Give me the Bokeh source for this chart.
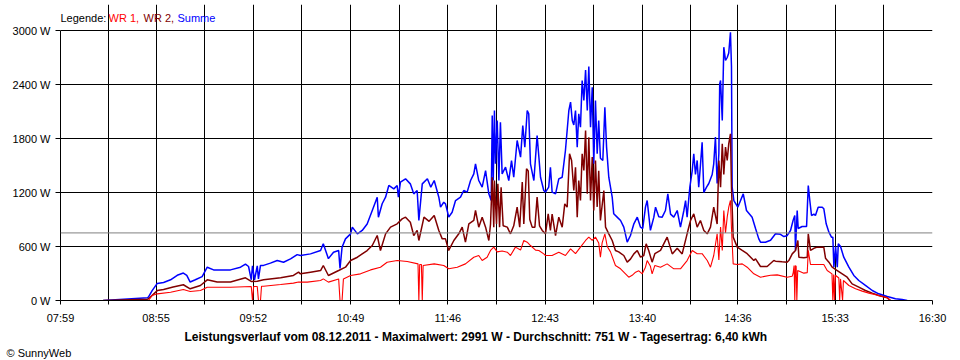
from bokeh.plotting import figure
from bokeh.models import FixedTicker, Span, Label, PrintfTickFormatter, Range1d, Title
from bokeh.embed import file_html
from bokeh.resources import INLINE

# ---------------- data ----------------
tick_labels = ["07:59", "08:55", "09:52", "10:49", "11:46", "12:43", "13:40", "14:36", "15:33", "16:30"]
y_ticks = [0, 600, 1200, 1800, 2400, 3000]
average_w = 751

legend_texts = ["Legende:", "WR 1,", "WR 2,", "Summe"]
title_text = ("Leistungsverlauf vom 08.12.2011 - Maximalwert: 2991 W - "
              "Durchschnitt: 751 W - Tagesertrag: 6,40 kWh")

sum_time = ["08:24:00", "08:36:00", "08:50:00", "08:50:36", "08:52:42", "08:55:42", "08:59:24", "09:03:30",
            "09:07:24", "09:11:00", "09:13:00", "09:15:00", "09:18:00", "09:22:00", "09:25:00", "09:28:42",
            "09:38:36", "09:44:30", "09:47:24", "09:49:12", "09:50:48", "09:51:30", "09:52:42", "09:54:18",
            "09:55:00", "09:56:12", "09:58:00", "10:02:00", "10:06:00", "10:09:42", "10:13:48", "10:17:42",
            "10:19:36", "10:25:30", "10:31:24", "10:33:00", "10:36:00", "10:39:00", "10:42:00", "10:42:48",
            "10:44:00", "10:46:00", "10:49:00", "10:50:00", "10:53:00", "10:55:48", "10:58:42", "11:01:42",
            "11:04:36", "11:05:18", "11:07:30", "11:09:30", "11:11:24", "11:14:18", "11:16:18", "11:17:00",
            "11:18:12", "11:21:12", "11:24:00", "11:26:00", "11:28:00", "11:29:00", "11:31:00", "11:34:00",
            "11:36:00", "11:38:00", "11:40:42", "11:41:42", "11:43:36", "11:44:36", "11:45:36", "11:46:30",
            "11:48:30", "11:50:30", "11:53:24", "11:55:18", "11:57:18", "11:59:18", "12:01:12", "12:02:12",
            "12:04:06", "12:06:06", "12:08:06", "12:10:00", "12:11:24", "12:12:00", "12:12:36", "12:13:18",
            "12:13:54", "12:14:54", "12:15:54", "12:16:48", "12:17:48", "12:19:48", "12:21:42", "12:23:18",
            "12:24:36", "12:26:36", "12:28:36", "12:29:54", "12:31:06", "12:32:30", "12:33:24", "12:34:24",
            "12:36:24", "12:38:18", "12:40:18", "12:42:12", "12:43:12", "12:45:06", "12:46:06", "12:47:06",
            "12:49:06", "12:51:00", "12:53:00", "12:54:54", "12:56:54", "12:57:54", "12:58:54", "12:59:48",
            "13:00:48", "13:01:48", "13:02:42", "13:03:42", "13:04:42", "13:05:42", "13:06:42", "13:07:42",
            "13:08:36", "13:09:36", "13:10:36", "13:11:30", "13:12:30", "13:13:30", "13:14:24", "13:15:24",
            "13:16:48", "13:18:00", "13:19:00", "13:20:18", "13:22:18", "13:23:12", "13:25:12", "13:27:12",
            "13:29:06", "13:31:06", "13:33:00", "13:35:00", "13:37:00", "13:38:54", "13:40:12", "13:41:48",
            "13:42:48", "13:44:42", "13:46:42", "13:47:42", "13:49:36", "13:51:36", "13:53:30", "13:54:54",
            "13:56:30", "13:58:24", "14:00:24", "14:02:18", "14:04:18", "14:05:18", "14:06:12", "14:07:48",
            "14:09:12", "14:10:06", "14:11:06", "14:12:06", "14:13:00", "14:14:00", "14:15:00", "14:16:00",
            "14:17:36", "14:18:54", "14:19:54", "14:20:54", "14:21:48", "14:22:48", "14:23:48", "14:24:48",
            "14:25:18", "14:25:48", "14:26:48", "14:27:42", "14:28:42", "14:29:42", "14:30:36", "14:31:36",
            "14:32:12", "14:32:36", "14:33:36", "14:35:54", "14:39:06", "14:41:00", "14:44:18", "14:46:18",
            "14:48:12", "14:49:12", "14:52:06", "14:55:06", "14:58:00", "15:00:54", "15:02:54", "15:04:48",
            "15:06:48", "15:08:18", "15:09:18", "15:09:42", "15:10:42", "15:11:18", "15:13:36", "15:16:12",
            "15:17:12", "15:18:06", "15:19:06", "15:20:30", "15:21:24", "15:23:00", "15:25:24", "15:26:18",
            "15:27:42", "15:29:18", "15:30:48", "15:31:36", "15:32:12", "15:33:12", "15:34:12", "15:34:48",
            "15:36:06", "15:38:00", "15:41:00", "15:43:54", "15:46:48", "15:50:42", "15:54:42", "15:58:30",
            "16:03:30", "16:08:18", "16:12:12", "16:15:12"]
sum_watts = [0, 15, 30, 40, 110, 190, 200, 230,
             280, 305, 280, 205, 230, 265, 370, 340,
             340, 370, 405, 378, 230, 385, 230, 385,
             240, 390, 390, 415, 445, 425, 463, 510,
             500, 518, 555, 630, 465, 537, 555, 355,
             592, 685, 740, 815, 740, 778, 850, 1000,
             1148, 925, 1075, 1148, 1278, 1240, 1278, 1148,
             1315, 1352, 1296, 1185, 1222, 890, 1296, 1352,
             1259, 1333, 1148, 1037, 1092, 1074, 1000, 926,
             981, 1111, 1148, 1222, 1204, 1333, 1407, 1519,
             1333, 1259, 1444, 1185, 1111, 2055, 1333, 2111,
             1519, 2000, 1333, 1981, 1407, 1481, 1333, 1555,
             1370, 1778, 1592, 1944, 1704, 2111, 2074, 1519,
             1333, 1833, 1370, 1222, 1204, 1259, 1481, 1204,
             1185, 1352, 1370, 1667, 2111, 2204, 2000, 1950,
             2111, 1704, 2074, 1926, 2444, 2222, 2560, 2111,
             2600, 1926, 2370, 1519, 2222, 1630, 2000, 1580,
             1555, 2148, 1704, 1370, 1148, 963, 926, 889,
             815, 648, 722, 852, 926, 815, 800, 1037,
             1111, 780, 926, 1037, 930, 926, 1000, 1185,
             960, 926, 1000, 815, 1000, 1111, 926, 1259,
             1444, 1630, 1400, 1556, 1259, 1500, 1759, 1200,
             1259, 1300, 1350, 1400, 1519, 1815, 1300, 1630,
             2407, 2444, 2000, 2815, 2667, 2700, 2750, 2981,
             2600, 1259, 1111, 1037, 1185, 1000, 926, 800,
             685, 648, 648, 670, 741, 735, 711, 720,
             778, 889, 944, 556, 1000, 800, 822, 822,
             1278, 1111, 944, 960, 944, 1037, 1037, 1020,
             852, 759, 704, 704, 370, 600, 370, 630,
             600, 481, 370, 278, 222, 167, 111, 74,
             44, 19, 10, 0]

wr2_time = ["08:24:00", "08:50:00", "08:50:36", "08:55:42", "08:59:24", "09:05:00", "09:11:00", "09:15:00",
            "09:21:00", "09:25:00", "09:30:48", "09:38:36", "09:47:24", "09:51:00", "09:54:18", "09:58:00",
            "10:08:00", "10:15:30", "10:18:30", "10:19:36", "10:25:30", "10:31:24", "10:33:00", "10:36:00",
            "10:42:00", "10:46:00", "10:49:00", "10:53:00", "10:55:48", "10:58:42", "11:01:42", "11:04:36",
            "11:06:30", "11:09:30", "11:12:24", "11:16:18", "11:19:12", "11:21:12", "11:24:00", "11:26:00",
            "11:28:00", "11:29:00", "11:32:00", "11:35:00", "11:38:00", "11:40:42", "11:42:42", "11:44:36",
            "11:46:30", "11:49:30", "11:52:24", "11:54:24", "11:56:18", "11:58:18", "12:01:12", "12:02:12",
            "12:04:06", "12:06:06", "12:08:06", "12:10:00", "12:11:00", "12:12:00", "12:12:54", "12:13:18",
            "12:14:30", "12:15:18", "12:16:18", "12:17:12", "12:18:24", "12:20:48", "12:22:42", "12:24:36",
            "12:26:36", "12:28:06", "12:29:36", "12:30:30", "12:32:06", "12:33:06", "12:34:00", "12:35:24",
            "12:37:00", "12:38:18", "12:39:42", "12:41:18", "12:43:12", "12:44:48", "12:46:06", "12:47:06",
            "12:49:06", "12:51:00", "12:53:00", "12:54:30", "12:55:54", "12:57:18", "12:58:30", "12:59:48",
            "13:00:48", "13:01:48", "13:02:42", "13:03:42", "13:04:42", "13:05:42", "13:06:42", "13:07:42",
            "13:08:36", "13:09:36", "13:10:36", "13:11:30", "13:12:30", "13:13:30", "13:14:24", "13:15:24",
            "13:17:24", "13:18:24", "13:20:18", "13:22:18", "13:24:12", "13:26:06", "13:29:06", "13:31:06",
            "13:33:00", "13:35:00", "13:37:00", "13:38:54", "13:40:48", "13:42:12", "13:43:42", "13:45:42",
            "13:47:18", "13:50:36", "13:54:30", "13:57:30", "14:00:24", "14:03:18", "14:06:12", "14:08:12",
            "14:10:06", "14:12:06", "14:14:00", "14:16:00", "14:18:00", "14:19:54", "14:21:48", "14:23:48",
            "14:24:48", "14:25:48", "14:26:48", "14:27:42", "14:28:42", "14:29:42", "14:30:36", "14:31:36",
            "14:32:12", "14:33:12", "14:35:36", "14:38:30", "14:41:24", "14:45:18", "14:46:18", "14:49:12",
            "14:53:06", "14:57:00", "14:58:00", "15:01:54", "15:04:48", "15:05:48", "15:07:48", "15:09:42",
            "15:11:06", "15:11:42", "15:14:36", "15:16:36", "15:17:12", "15:18:30", "15:20:30", "15:22:24",
            "15:26:18", "15:27:18", "15:29:18", "15:31:12", "15:34:12", "15:37:06", "15:40:00", "15:42:54",
            "15:46:48", "15:50:42", "15:54:42", "15:58:30", "16:03:30", "16:05:24"]
wr2_watts = [0, 15, 20, 110, 122, 150, 175, 130,
             167, 230, 205, 205, 252, 210, 215, 230,
             252, 278, 315, 296, 315, 333, 389, 278,
             333, 370, 445, 481, 518, 555, 611, 722,
             555, 740, 815, 852, 907, 926, 870, 722,
             780, 667, 926, 880, 944, 778, 685, 685,
             556, 667, 741, 815, 648, 852, 889, 1000,
             815, 926, 815, 667, 850, 1370, 815, 1333,
             850, 1296, 815, 1259, 830, 815, 741, 830,
             1037, 815, 1315, 850, 1463, 1440, 900, 815,
             815, 1148, 830, 778, 741, 963, 780, 960,
             722, 926, 815, 1074, 1037, 1630, 1556, 1222,
             1480, 926, 1333, 1111, 1630, 1444, 1889, 1185,
             1815, 1111, 1593, 1000, 1556, 1040, 1440, 889,
             1222, 815, 741, 667, 556, 540, 500, 426,
             460, 518, 555, 481, 500, 630, 555, 426,
             520, 556, 704, 518, 580, 518, 741, 889,
             963, 815, 889, 778, 741, 815, 1037, 850,
             1556, 1259, 1741, 1400, 1704, 1556, 1741, 1852,
             1259, 704, 593, 556, 520, 444, 463, 378,
             378, 444, 437, 430, 426, 444, 518, 556,
             667, 481, 474, 480, 741, 556, 580, 593,
             593, 470, 426, 370, 333, 296, 259, 185,
             148, 111, 82, 56, 30, 0]

wr1_time = ["08:50:00", "08:50:36", "08:52:42", "08:55:42", "09:03:30", "09:11:00", "09:15:00", "09:21:00",
            "09:25:00", "09:38:36", "09:50:48", "09:51:30", "09:52:12", "09:54:18", "09:55:00", "09:56:12",
            "09:56:48", "09:58:00", "10:08:00", "10:15:30", "10:18:30", "10:23:36", "10:31:24", "10:33:00",
            "10:36:00", "10:42:00", "10:42:48", "10:44:00", "10:44:48", "10:49:00", "10:54:48", "11:00:42",
            "11:06:30", "11:10:24", "11:16:18", "11:22:12", "11:28:30", "11:29:00", "11:29:30", "11:30:30",
            "11:31:00", "11:31:30", "11:38:00", "11:43:36", "11:46:30", "11:51:30", "11:56:18", "12:01:12",
            "12:04:06", "12:06:06", "12:09:00", "12:11:00", "12:12:54", "12:14:54", "12:17:48", "12:20:48",
            "12:22:42", "12:25:36", "12:28:36", "12:30:30", "12:32:30", "12:34:24", "12:37:24", "12:39:18",
            "12:42:12", "12:43:12", "12:47:06", "12:51:00", "12:54:54", "12:57:54", "13:00:48", "13:03:42",
            "13:06:42", "13:08:36", "13:10:36", "13:12:30", "13:14:24", "13:15:24", "13:16:24", "13:18:00",
            "13:19:24", "13:21:18", "13:24:12", "13:27:12", "13:30:06", "13:32:00", "13:34:00", "13:36:00",
            "13:37:54", "13:39:54", "13:41:48", "13:42:48", "13:44:42", "13:45:42", "13:47:18", "13:50:36",
            "13:54:30", "13:58:24", "14:02:18", "14:06:12", "14:09:12", "14:12:06", "14:15:00", "14:18:00",
            "14:19:54", "14:21:48", "14:23:48", "14:24:48", "14:25:48", "14:26:48", "14:27:42", "14:28:42",
            "14:29:42", "14:30:36", "14:31:36", "14:32:12", "14:33:12", "14:35:36", "14:38:30", "14:41:24",
            "14:45:18", "14:49:12", "14:55:06", "14:59:00", "15:04:48", "15:07:48", "15:08:18", "15:08:54",
            "15:09:18", "15:09:42", "15:10:06", "15:10:30", "15:11:00", "15:14:36", "15:16:36", "15:17:12",
            "15:18:30", "15:22:24", "15:26:18", "15:28:18", "15:31:06", "15:31:36", "15:32:06", "15:32:36",
            "15:33:06", "15:35:06", "15:35:36", "15:36:06", "15:37:18", "15:37:48", "15:41:00", "15:44:54",
            "15:48:48", "15:52:42", "15:56:36", "16:00:30", "16:03:30", "16:05:24"]
wr1_watts = [0, 0, 55, 74, 92, 122, 100, 111,
             148, 148, 155, 0, 155, 155, 0, 0,
             159, 159, 178, 193, 205, 204, 222, 240,
             204, 240, 0, 0, 240, 278, 296, 340,
             370, 425, 445, 433, 407, 0, 400, 400,
             0, 389, 407, 389, 352, 370, 407, 481,
             500, 444, 481, 556, 593, 540, 550, 537,
             500, 593, 560, 667, 648, 611, 560, 556,
             518, 500, 500, 537, 500, 574, 520, 593,
             667, 704, 667, 704, 640, 481, 640, 741,
             600, 540, 389, 352, 296, 259, 280, 315,
             330, 296, 370, 444, 380, 296, 390, 370,
             407, 352, 352, 444, 556, 520, 520, 444,
             370, 500, 741, 450, 815, 556, 1000, 750,
             926, 1037, 1111, 800, 407, 400, 407, 370,
             296, 259, 280, 285, 259, 270, 300, 389,
             0, 389, 380, 0, 333, 304, 310, 556,
             400, 400, 400, 333, 296, 0, 290, 0,
             280, 250, 0, 240, 0, 222, 167, 130,
             104, 82, 63, 44, 30, 0]


def to_minutes(hms):
    parts = [int(v) for v in hms.split(":")]
    sec = parts[2] if len(parts) > 2 else 0
    return parts[0] * 60 + parts[1] + sec / 60.0


major_pos = [to_minutes(t) for t in tick_labels]
minor_pos = [(a + b) / 2.0 for a, b in zip(major_pos[:-1], major_pos[1:])]

FONT = "Liberation Sans"

# layout: the frame reaches above the 3000 W line so that the legend line
# can be drawn inside it; the grid and axis are bounded to the value range.
GRID_H = 270          # pixels from 0 W to 3000 W
FRAME_H = 296         # frame height incl. legend strip
y_top = y_ticks[-1] * FRAME_H / GRID_H

p = figure(width=960, height=360, output_backend="svg", toolbar_location=None,
           x_range=Range1d(major_pos[0], major_pos[-1]), y_range=Range1d(y_ticks[0], y_top),
           min_border_left=60, min_border_right=28, min_border_top=360 - 60 - FRAME_H,
           min_border_bottom=60)
p.title.text = ""
p.background_fill_color = "white"
p.border_fill_color = "white"
p.outline_line_color = None

# grid
p.xgrid.ticker = FixedTicker(ticks=major_pos, minor_ticks=minor_pos)
p.xgrid.grid_line_color = "black"
p.xgrid.minor_grid_line_color = "black"
p.xgrid.bounds = (y_ticks[0], y_ticks[-1])
p.ygrid.ticker = FixedTicker(ticks=y_ticks)
p.ygrid.grid_line_color = "black"

# axes
xa = p.xaxis[0]
xa.ticker = FixedTicker(ticks=major_pos, minor_ticks=minor_pos)
xa.major_label_overrides = {m: lab for m, lab in zip(major_pos, tick_labels)}
xa.axis_line_color = "black"
xa.major_tick_in = 0
xa.major_tick_out = 4
xa.minor_tick_in = 0
xa.minor_tick_out = 4
xa.major_tick_line_color = "black"
xa.minor_tick_line_color = "black"
xa.major_label_text_font = FONT
xa.major_label_text_font_size = "11px"
xa.major_label_text_color = "black"
xa.major_label_standoff = 7

ya = p.yaxis[0]
ya.ticker = FixedTicker(ticks=y_ticks)
ya.bounds = (y_ticks[0], y_ticks[-1])
ya.formatter = PrintfTickFormatter(format="%d W")
ya.axis_line_color = "black"
ya.major_tick_in = 0
ya.major_tick_out = 5
ya.minor_tick_line_color = None
ya.major_tick_line_color = "black"
ya.major_label_text_font = FONT
ya.major_label_text_font_size = "11px"
ya.major_label_text_color = "black"
ya.major_label_standoff = 5

# series
p.line([to_minutes(t) for t in sum_time], sum_watts, line_color="#0000FF", line_width=1.5)
p.line([to_minutes(t) for t in wr2_time], wr2_watts, line_color="#800000", line_width=1.5)
p.line([to_minutes(t) for t in wr1_time], wr1_watts, line_color="#FF0000", line_width=1.1)

p.add_layout(Span(location=average_w, dimension="width", line_color="#808080", line_width=1))

# legend line, inside the top strip of the frame (screen units from frame bottom-left)
legend_colors = ["black", "#FF0000", "#800000", "#0000FF"]
legend_offsets = [0, 48, 83, 117]
for txt, col, xo in zip(legend_texts, legend_colors, legend_offsets):
    p.add_layout(Label(x=xo, y=283, x_units="screen", y_units="screen", text=txt, text_color=col,
                       text_font=FONT, text_font_size="11px", text_baseline="alphabetic"))

# bottom texts
p.add_layout(Title(text=title_text, align="left", text_font=FONT, text_font_size="12px",
                   text_font_style="bold", text_color="black", standoff=2, offset=124), "below")
p.add_layout(Title(text="\u00a9 SunnyWeb", align="left", text_font=FONT, text_font_size="11px",
                   text_font_style="normal", text_color="black", standoff=0, offset=-54), "below")

open("out.html", "w").write(file_html(p, INLINE))
